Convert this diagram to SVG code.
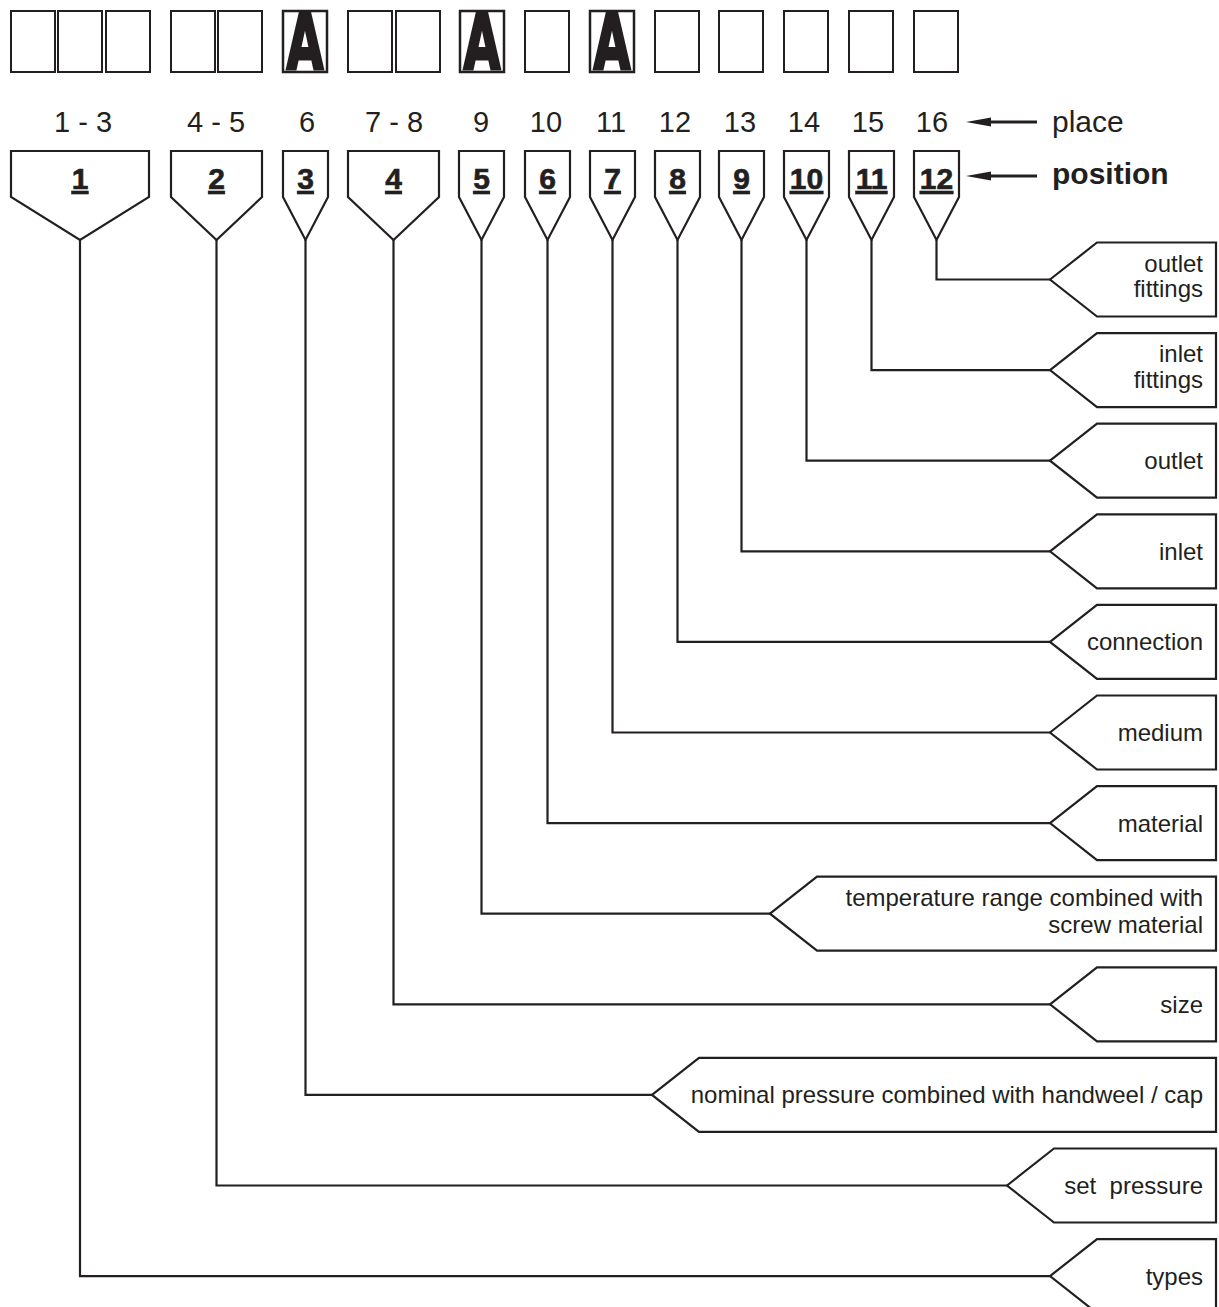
<svg xmlns="http://www.w3.org/2000/svg" width="1219" height="1307" viewBox="0 0 1219 1307">
<style>
.bx{fill:#fff;stroke:#231f20;stroke-width:2}
.bxa{fill:#fff;stroke:#231f20;stroke-width:2.5}
.bg{fill:#fff;stroke:#231f20;stroke-width:2.2;stroke-linejoin:miter}
.lb{fill:#fff;stroke:#231f20;stroke-width:2.2;stroke-linejoin:miter}
.cn{fill:none;stroke:#231f20;stroke-width:2.2}
.ah{fill:#231f20;stroke:none}
.al{stroke:#231f20;stroke-width:3}
text{font-family:"Liberation Sans",Arial,sans-serif;fill:#231f20}
.pl{font-size:29px;text-anchor:middle}
.pn{font-size:30px;font-weight:bold;text-anchor:middle;text-decoration:underline;stroke:#231f20;stroke-width:0.6}
.tx{font-size:24px;text-anchor:end}
.big{font-family:"DejaVu Sans",sans-serif;font-size:77px;font-weight:bold;text-anchor:middle;fill:#231f20;stroke:#231f20;stroke-width:3;stroke-linejoin:miter}
</style>

<g id="code-boxes">
<rect class="bx" x="11" y="11" width="44" height="61"/>
<rect class="bx" x="58" y="11" width="44" height="61"/>
<rect class="bx" x="106" y="11" width="44" height="61"/>
<rect class="bx" x="171" y="11" width="44" height="61"/>
<rect class="bx" x="218" y="11" width="44" height="61"/>
<rect class="bxa" x="283" y="11" width="44" height="61"/>
<text class="big" transform="translate(305 69) scale(0.62 1)">A</text>
<rect class="bx" x="348" y="11" width="44" height="61"/>
<rect class="bx" x="396" y="11" width="44" height="61"/>
<rect class="bxa" x="460" y="11" width="44" height="61"/>
<text class="big" transform="translate(482 69) scale(0.62 1)">A</text>
<rect class="bx" x="525" y="11" width="44" height="61"/>
<rect class="bxa" x="590" y="11" width="44" height="61"/>
<text class="big" transform="translate(612 69) scale(0.62 1)">A</text>
<rect class="bx" x="655" y="11" width="44" height="61"/>
<rect class="bx" x="719" y="11" width="44" height="61"/>
<rect class="bx" x="784" y="11" width="44" height="61"/>
<rect class="bx" x="849" y="11" width="44" height="61"/>
<rect class="bx" x="914" y="11" width="44" height="61"/>
</g>

<g id="places">
<text class="pl" x="83" y="132">1 - 3</text>
<text class="pl" x="216" y="132">4 - 5</text>
<text class="pl" x="307" y="132">6</text>
<text class="pl" x="394" y="132">7 - 8</text>
<text class="pl" x="481" y="132">9</text>
<text class="pl" x="546" y="132">10</text>
<text class="pl" x="611" y="132">11</text>
<text class="pl" x="675" y="132">12</text>
<text class="pl" x="740" y="132">13</text>
<text class="pl" x="804" y="132">14</text>
<text class="pl" x="868" y="132">15</text>
<text class="pl" x="932" y="132">16</text>
</g>

<g id="legend">
<line class="al" x1="988" y1="122" x2="1037" y2="122"/>
<polygon class="ah" points="966,122 991,117.5 991,126.5"/>
<text x="1052" y="132" style="font-size:30px">place</text>
<line class="al" x1="988" y1="176" x2="1037" y2="176"/>
<polygon class="ah" points="966,176 991,171.5 991,180.5"/>
<text x="1052" y="184" style="font-size:30px;font-weight:bold">position</text>
</g>

<g id="pos-1"><polygon class="bg" points="11,151 149,151 149,197 80,240 11,197"/><text class="pn" x="80" y="189">1</text></g>
<g id="pos-2"><polygon class="bg" points="171,151 262,151 262,197 216.5,240 171,197"/><text class="pn" x="216.5" y="189">2</text></g>
<g id="pos-3"><polygon class="bg" points="283,151 328,151 328,197 305.5,240 283,197"/><text class="pn" x="305.5" y="189">3</text></g>
<g id="pos-4"><polygon class="bg" points="348,151 439,151 439,197 393.5,240 348,197"/><text class="pn" x="393.5" y="189">4</text></g>
<g id="pos-5"><polygon class="bg" points="459,151 504,151 504,197 481.5,240 459,197"/><text class="pn" x="481.5" y="189">5</text></g>
<g id="pos-6"><polygon class="bg" points="525,151 570,151 570,197 547.5,240 525,197"/><text class="pn" x="547.5" y="189">6</text></g>
<g id="pos-7"><polygon class="bg" points="590,151 635,151 635,197 612.5,240 590,197"/><text class="pn" x="612.5" y="189">7</text></g>
<g id="pos-8"><polygon class="bg" points="655,151 700,151 700,197 677.5,240 655,197"/><text class="pn" x="677.5" y="189">8</text></g>
<g id="pos-9"><polygon class="bg" points="719,151 764,151 764,197 741.5,240 719,197"/><text class="pn" x="741.5" y="189">9</text></g>
<g id="pos-10"><polygon class="bg" points="784,151 829,151 829,197 806.5,240 784,197"/><text class="pn" x="806.5" y="189">10</text></g>
<g id="pos-11"><polygon class="bg" points="849,151 894,151 894,197 871.5,240 849,197"/><text class="pn" x="871.5" y="189">11</text></g>
<g id="pos-12"><polygon class="bg" points="914,151 959,151 959,197 936.5,240 914,197"/><text class="pn" x="936.5" y="189">12</text></g>

<g id="connectors">
<path class="cn" d="M936.5 240 V279.5 H1050"/>
<path class="cn" d="M871.5 240 V370.1 H1050"/>
<path class="cn" d="M806.5 240 V460.7 H1050"/>
<path class="cn" d="M741.5 240 V551.3 H1050"/>
<path class="cn" d="M677.5 240 V641.9 H1050"/>
<path class="cn" d="M612.5 240 V732.5 H1050"/>
<path class="cn" d="M547.5 240 V823.1 H1050"/>
<path class="cn" d="M481.5 240 V913.7 H770"/>
<path class="cn" d="M393.5 240 V1004.3 H1050"/>
<path class="cn" d="M305.5 240 V1094.9 H652"/>
<path class="cn" d="M216.5 240 V1185.5 H1007"/>
<path class="cn" d="M80 240 V1276.1 H1050"/>
</g>

<g id="lbl-outlet-fittings"><polygon class="lb" points="1050,279.5 1097,242.5 1216,242.5 1216,316.5 1097,316.5"/><text class="tx" x="1203" y="271.5">outlet</text><text class="tx" x="1203" y="297">fittings</text></g>
<g id="lbl-inlet-fittings"><polygon class="lb" points="1050,370.1 1097,333.1 1216,333.1 1216,407.1 1097,407.1"/><text class="tx" x="1203" y="362">inlet</text><text class="tx" x="1203" y="387.5">fittings</text></g>
<g id="lbl-outlet"><polygon class="lb" points="1050,460.7 1097,423.7 1216,423.7 1216,497.7 1097,497.7"/><text class="tx" x="1203" y="469.2">outlet</text></g>
<g id="lbl-inlet"><polygon class="lb" points="1050,551.3 1097,514.3 1216,514.3 1216,588.3 1097,588.3"/><text class="tx" x="1203" y="559.8">inlet</text></g>
<g id="lbl-connection"><polygon class="lb" points="1050,641.9 1097,604.9 1216,604.9 1216,678.9 1097,678.9"/><text class="tx" x="1203" y="650.4">connection</text></g>
<g id="lbl-medium"><polygon class="lb" points="1050,732.5 1097,695.5 1216,695.5 1216,769.5 1097,769.5"/><text class="tx" x="1203" y="741">medium</text></g>
<g id="lbl-material"><polygon class="lb" points="1050,823.1 1097,786.1 1216,786.1 1216,860.1 1097,860.1"/><text class="tx" x="1203" y="831.6">material</text></g>
<g id="lbl-temperature"><polygon class="lb" points="770,913.7 817,876.7 1216,876.7 1216,950.7 817,950.7"/><text class="tx" x="1203" y="906">temperature range combined with</text><text class="tx" x="1203" y="932.5">screw material</text></g>
<g id="lbl-size"><polygon class="lb" points="1050,1004.3 1097,967.3 1216,967.3 1216,1041.3 1097,1041.3"/><text class="tx" x="1203" y="1012.8">size</text></g>
<g id="lbl-nominal"><polygon class="lb" points="652,1094.9 699,1057.9 1216,1057.9 1216,1131.9 699,1131.9"/><text class="tx" x="1203" y="1103.4">nominal pressure combined with handweel / cap</text></g>
<g id="lbl-set-pressure"><polygon class="lb" points="1007,1185.5 1054,1148.5 1216,1148.5 1216,1222.5 1054,1222.5"/><text class="tx" x="1203" y="1194" style="white-space:pre">set  pressure</text></g>
<g id="lbl-types"><polygon class="lb" points="1050,1276.1 1097,1239.1 1216,1239.1 1216,1313.1 1097,1313.1"/><text class="tx" x="1203" y="1284.6">types</text></g>
</svg>
